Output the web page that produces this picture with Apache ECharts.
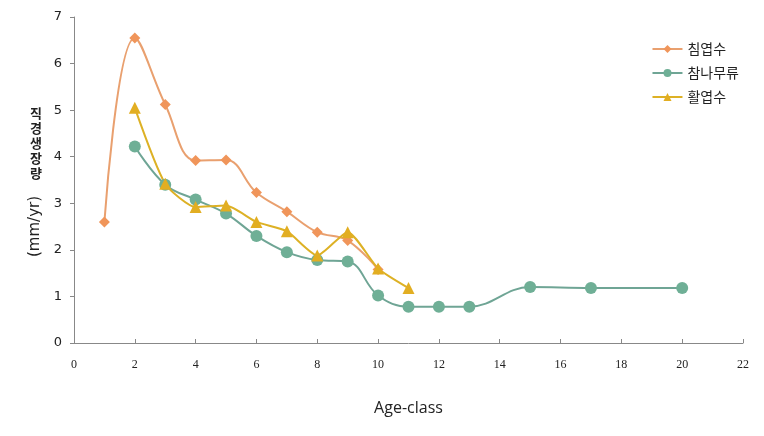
<!DOCTYPE html>
<html><head><meta charset="utf-8">
<script src="https://cdn.jsdelivr.net/npm/echarts@6/dist/echarts.min.js"></script>
<style>html,body{margin:0;padding:0;background:#fff}#c{width:764px;height:436px}</style>
</head><body><div id="c"></div>
<script>
const xConifer = [1,2,3,4,5,6,7,8,9,10];
const yConifer = [2.6,6.55,5.12,3.92,3.93,3.23,2.82,2.38,2.2,1.58];
const xOak = [2,3,4,5,6,7,8,9,10,11,12,13,15,17,20];
const yOak = [4.22,3.4,3.08,2.78,2.3,1.95,1.78,1.75,1.02,0.78,0.78,0.78,1.2,1.18,1.18];
const xBroad = [2,3,4,5,6,7,8,9,10,11];
const yBroad = [5.05,3.42,2.92,2.95,2.6,2.4,1.88,2.38,1.6,1.18];
const names = ['침엽수','참나무류','활엽수'];

const zip = (a,b)=>a.map((v,i)=>[v,b[i]]);
const chart = echarts.init(document.getElementById('c'));
chart.setOption({
  animation:false,
  grid:{left:74,right:21,top:17,bottom:93},
  legend:{
    orient:'vertical', right:20, top:37, itemGap:10, itemWidth:30, itemHeight:10,
    textStyle:{fontSize:14,color:'#222',fontFamily:'Noto Sans CJK KR'},
    data:names
  },
  xAxis:{
    type:'value', min:0, max:22, interval:2,
    name:'Age-class', nameLocation:'middle', nameGap:57,
    nameTextStyle:{fontSize:16,color:'#222',fontFamily:'Open Sans'},
    axisLine:{lineStyle:{color:'#888'}},
    axisTick:{inside:true,length:4,lineStyle:{color:'#888'}},
    axisLabel:{margin:16,fontSize:12,color:'#222',fontFamily:'Liberation Serif'},
    splitLine:{show:false}
  },
  yAxis:{
    type:'value', min:0, max:7, interval:1,
    axisLine:{show:true,lineStyle:{color:'#888'}},
    axisTick:{show:true,length:4,lineStyle:{color:'#888'}},
    axisLabel:{margin:12,fontSize:13,color:'#222',fontFamily:'DejaVu Sans'},
    splitLine:{show:false}
  },
  graphic:[
    {type:'text',left:30,top:106,style:{text:'직\n경\n생\n장\n량',font:'bold 13px "Noto Sans CJK KR"',fill:'#222',lineHeight:15}},
    {type:'text',x:28,y:257,rotation:Math.PI/2,style:{text:'(mm/yr)',font:'15px "DejaVu Sans"',fill:'#222'}}
  ],
  series:[
    {name:names[0],type:'line',smooth:0.4,data:zip(xConifer,yConifer),symbol:'diamond',symbolSize:11,
     itemStyle:{color:'#F0955A'},lineStyle:{color:'#E9A06F',width:2}},
    {name:names[1],type:'line',smooth:0.4,data:zip(xOak,yOak),symbol:'circle',symbolSize:12,
     itemStyle:{color:'#6FAF96'},lineStyle:{color:'#6FA595',width:2}},
    {name:names[2],type:'line',smooth:0.2,data:zip(xBroad,yBroad),symbol:'triangle',symbolSize:12,
     itemStyle:{color:'#E2AE22'},lineStyle:{color:'#DDB125',width:2}}
  ]
});
</script></body></html>
